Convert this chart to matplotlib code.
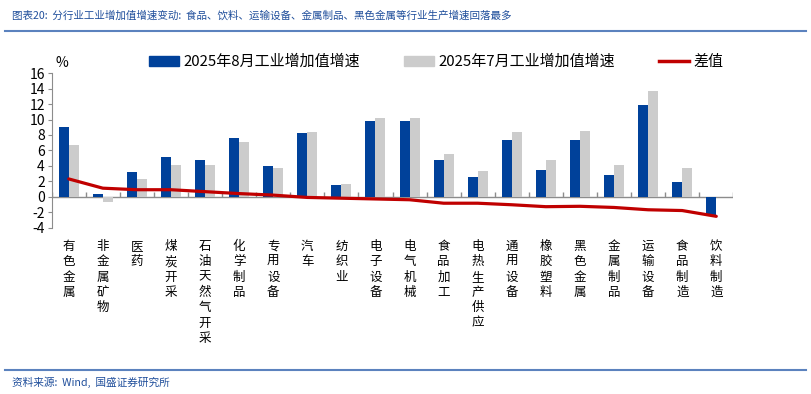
import numpy as np
import matplotlib
matplotlib.use("Agg")
import matplotlib.pyplot as plt
from matplotlib.lines import Line2D
from matplotlib.patches import Patch

plt.rcParams['font.family'] = ['Noto Sans CJK SC', 'DejaVu Sans']
plt.rcParams['axes.unicode_minus'] = False

# -----------------------------
# Data
# -----------------------------
industries = ["有色金属", "非金属矿物", "医药", "煤炭开采", "石油天然气开采",
              "化学制品", "专用设备", "汽车", "纺织业", "电子设备",
              "电气机械", "食品加工", "电热生产供应", "通用设备", "橡胶塑料",
              "黑色金属", "金属制品", "运输设备", "食品制造", "饮料制造"]
aug_2025 = [9.0, 0.4, 3.25, 5.1, 4.7, 7.55, 3.95, 8.3, 1.45, 9.85,
            9.75, 4.7, 2.5, 7.3, 3.4, 7.3, 2.75, 11.95, 1.95, -2.5]
jul_2025 = [6.75, -0.65, 2.35, 4.15, 4.05, 7.15, 3.75, 8.45, 1.65, 10.15,
            10.15, 5.55, 3.35, 8.35, 4.75, 8.55, 4.15, 13.65, 3.75, 0.0]
diff = [2.3, 1.1, 0.9, 0.9, 0.65, 0.4, 0.2, -0.1, -0.2, -0.3,
        -0.4, -0.85, -0.85, -1.05, -1.3, -1.25, -1.4, -1.7, -1.8, -2.55]

BLUE = "#00419A"
GREY = "#CCCCCC"
RED = "#C00000"
AXIS = "#8C8C8C"
TXT_BLUE = "#1F4E9B"
RULE = "#5B82BE"

fig = plt.figure(figsize=(8.11, 3.94), dpi=100)
ax = fig.add_axes([51.7 / 811, 1 - 227.5 / 394, (733.3 - 51.7) / 811, (227.5 - 73.3) / 394])

x = np.arange(len(industries))
w = 0.293
ax.bar(x - w / 2, aug_2025, width=w, color=BLUE, label="2025年8月工业增加值增速", zorder=2)
ax.bar(x + w / 2, jul_2025, width=w, color=GREY, label="2025年7月工业增加值增速", zorder=2)
ax.plot(x, diff, color=RED, lw=2.3, label="差值", zorder=3, solid_capstyle="round")

ax.set_xlim(-0.5, len(industries) - 0.5)
ax.set_ylim(-4, 16)
ax.set_yticks(np.arange(-4, 17, 2))
ax.tick_params(axis="y", direction="out", length=3, color=AXIS, labelsize=10, pad=2)

# zero line with category separators as x-axis
ax.axhline(0, color=AXIS, lw=1, zorder=1)
ax.vlines(np.arange(len(industries) + 1) - 0.5, 0, 0.55, color=AXIS, lw=1, zorder=1)

ax.set_xticks(x)
ax.set_xticklabels(["\n".join(s) for s in industries], fontsize=9, linespacing=1.23, va="top")
ax.tick_params(axis="x", length=0, pad=9)

for side in ["top", "right", "bottom"]:
    ax.spines[side].set_visible(False)
ax.spines["left"].set_color(AXIS)

fig.text(55 / 811, 1 - 63 / 394, "%", fontsize=10, va="center", ha="left")

handles = [Patch(color=BLUE), Patch(color=GREY), Line2D([], [], color=RED, lw=2.5)]
labels = ["2025年8月工业增加值增速", "2025年7月工业增加值增速", "差值"]
fig.legend(handles, labels, loc="center left", bbox_to_anchor=(149 / 811, 1 - 62 / 394),
           ncol=3, frameon=False, fontsize=10.8, borderpad=0, borderaxespad=0,
           handlelength=2.0, handleheight=0.6, handletextpad=0.28, columnspacing=2.95)

# header / footer
fig.text(12 / 811, 1 - 16 / 394,
         "图表20:  分行业工业增加值增速变动:  食品、饮料、运输设备、金属制品、黑色金属等行业生产增速回落最多",
         fontsize=7.6, color=TXT_BLUE, style="italic", va="center", ha="left")
fig.add_artist(Line2D([5 / 811, 806 / 811], [1 - 31 / 394, 1 - 31 / 394],
                      transform=fig.transFigure, color=RULE, lw=1.5))
fig.add_artist(Line2D([5 / 811, 806 / 811], [1 - 370 / 394, 1 - 370 / 394],
                      transform=fig.transFigure, color=RULE, lw=1.5))
fig.text(12 / 811, 1 - 382 / 394, "资料来源:  Wind,  国盛证券研究所",
         fontsize=7.7, color=TXT_BLUE, style="italic", va="center", ha="left")

fig.savefig("out.png", dpi=100)
